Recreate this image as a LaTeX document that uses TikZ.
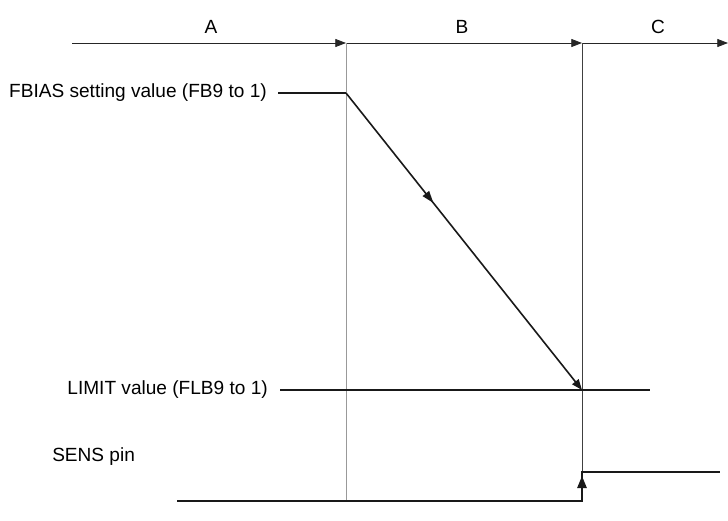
\documentclass[tikz,border=0pt]{standalone}
\usepackage{fontspec}
\setmainfont{Liberation Sans}
\usetikzlibrary{arrows.meta,decorations.markings}
\begin{document}
\begin{tikzpicture}[x=0.75pt,y=-0.75pt,
  lbl/.style={font=\fontsize{14.3}{17}\selectfont,inner sep=0pt},
  axis/.style={line width=0.6pt,black!85},
  tip/.style={-{Triangle[length=8pt,width=6pt]}},
  guide/.style={line width=0.5pt},
  sig/.style={line width=1.2pt,black!90}]
\useasboundingbox (0,0) rectangle (728,521);
% axis coordinates
\coordinate (a0) at (72,43);
\coordinate (a1) at (346,43);
\coordinate (a2) at (582,43);
\coordinate (a3) at (728,43);
\draw[axis,tip] (a0) -- (a1);
\draw[axis,tip] (a1) -- (a2);
\draw[axis,tip] (a2) -- (a3);
\node[lbl] (A) at (211,27) {A};
\node[lbl] (B) at (462,27) {B};
\node[lbl] (C) at (658,27) {C};
% guides
\coordinate (g1) at (346,501);
\coordinate (g2) at (582,472);
\draw[guide,black!40] (a1) -- (g1);
\draw[guide,black!75] (a2) -- (g2);
% labels
\node[lbl,anchor=east] (fb) at (267,93) {FBIAS setting value (FB9 to 1)};
\node[lbl,anchor=east] (lim) at (268,390) {LIMIT value (FLB9 to 1)};
\node[lbl,anchor=west] (sens) at (52,457) {SENS pin};
% FBIAS
\coordinate (f1) at (346,93);
\coordinate (f2) at (582,390);
\draw[sig] ([xshift=8.25pt]fb.east) -- (f1);
\draw[sig,decoration={markings,mark=at position 0.37 with {\arrow{Triangle[length=9pt,width=6pt]}}},postaction={decorate},tip] (f1) -- (f2);
% LIMIT
\coordinate (l1) at (650,390);
\draw[sig] ([xshift=9pt]lim.east) -- (l1);
% SENS
\coordinate (s0) at (177,501);
\coordinate (s1) at (582,501);
\coordinate (s3) at (720,472);
\draw[sig] (s0) -- (s1) -- (g2) -- (s3);
\draw[sig,-{Triangle[length=9pt,width=7pt]}] (s1) -- ([yshift=-3pt]g2);
\end{tikzpicture}
\end{document}
